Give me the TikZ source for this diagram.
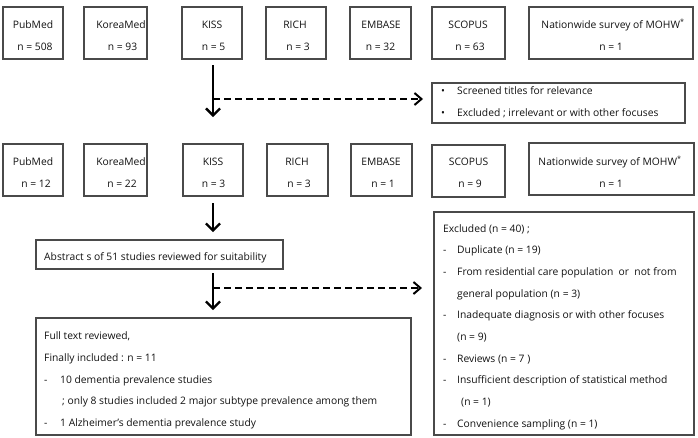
\documentclass[tikz,border=0pt]{standalone}
\usepackage{fontspec}
\setmainfont{Open Sans}
\usetikzlibrary{arrows.meta,calc}
\definecolor{boxc}{HTML}{4A4A4A}
\definecolor{txtc}{HTML}{111111}
\begin{document}
\begin{tikzpicture}[x=1pt,y=-1pt,
  box/.style={draw=boxc,line width=1.2pt,anchor=north west,inner sep=0pt,outer sep=0pt},
  txt/.style={font=\fontsize{10.3}{12}\selectfont,text=txtc,inner sep=0pt,anchor=base},
  ltxt/.style={txt,anchor=base west},
  arr/.style={line width=2.3pt,-{Straight Barb[length=7pt,width=14pt,line width=2.3pt]}},
  darr/.style={line width=1.9pt,dash pattern=on 7pt off 4pt,-{Straight Barb[length=7pt,width=12pt,line width=2pt]}}]
\useasboundingbox (0,0) rectangle (698,437);
% ---------- row 1 ----------
\node[box,minimum width=60pt,minimum height=52pt] (pm1) at (3,7) {};
\node[box,minimum width=63pt,minimum height=52pt] (km1) at (84,7) {};
\node[box,minimum width=60pt,minimum height=52pt] (ki1) at (182,7) {};
\node[box,minimum width=60pt,minimum height=52pt] (ri1) at (266,7) {};
\node[box,minimum width=61pt,minimum height=52pt] (em1) at (350,7) {};
\node[box,minimum width=73pt,minimum height=52pt] (sc1) at (432,7) {};
\node[box,minimum width=164pt,minimum height=52pt] (nw1) at (529,7) {};
\node[txt] (pm1a) at (33,28.6) {PubMed};
\node[txt] (pm1b) at (35,50.6) {n = 508};
\node[txt] (km1a) at (121,28.6) {KoreaMed};
\node[txt] (km1b) at (122.5,50.6) {n = 93};
\node[txt] (ki1a) at (212,28.6) {KISS};
\node[txt] (ki1b) at (213.5,50.6) {n = 5};
\node[txt] (ri1a) at (295,28.6) {RICH};
\node[txt] (ri1b) at (298,50.6) {n = 3};
\node[txt] (em1a) at (381,28.6) {EMBASE};
\node[txt] (em1b) at (380.5,50.6) {n = 32};
\node[txt] (sc1a) at (468,28.6) {SCOPUS};
\node[txt] (sc1b) at (470,50.6) {n = 63};
\node[txt] (nw1a) at (613,28.6) {Nationwide survey of MOHW\textsuperscript{*}};
\node[txt] (nw1b) at (611,50.6) {n = 1};
% ---------- screening box ----------
\node[box,minimum width=253pt,minimum height=40pt] (scr) at (432,83) {};
\node[ltxt] (scra0) at (441,94) {\textbullet};
\node[ltxt] (scra) at (457,94) {Screened titles for relevance};
\node[ltxt] (scrb0) at (441,116) {\textbullet};
\node[ltxt] (scrb) at (457,116) {Excluded ; irrelevant or with other focuses};
% ---------- row 2 ----------
\node[box,minimum width=60pt,minimum height=52pt] (pm2) at (3,144) {};
\node[box,minimum width=63pt,minimum height=52pt] (km2) at (84,144) {};
\node[box,minimum width=60pt,minimum height=52pt] (ki2) at (183,144) {};
\node[box,minimum width=61pt,minimum height=52pt] (ri2) at (267,144) {};
\node[box,minimum width=61pt,minimum height=52pt] (em2) at (351,144) {};
\node[box,minimum width=73pt,minimum height=52pt] (sc2) at (432,145) {};
\node[box,minimum width=165pt,minimum height=52pt] (nw2) at (529,143) {};
\node[txt] (pm2a) at (33,165.6) {PubMed};
\node[txt] (pm2b) at (36,187.6) {n = 12};
\node[txt] (km2a) at (121,165.6) {KoreaMed};
\node[txt] (km2b) at (122,187.6) {n = 22};
\node[txt] (ki2a) at (213,165.6) {KISS};
\node[txt] (ki2b) at (213.5,187.6) {n = 3};
\node[txt] (ri2a) at (297,165.6) {RICH};
\node[txt] (ri2b) at (299,187.6) {n = 3};
\node[txt] (em2a) at (381,165.6) {EMBASE};
\node[txt] (em2b) at (383,187.6) {n = 1};
\node[txt] (sc2a) at (468.5,165.6) {SCOPUS};
\node[txt] (sc2b) at (470,187.6) {n = 9};
\node[txt] (nw2a) at (610,165.6) {Nationwide survey of MOHW\textsuperscript{*}};
\node[txt] (nw2b) at (611,187.6) {n = 1};
% ---------- abstract box ----------
\node[box,minimum width=247pt,minimum height=29pt] (abs) at (36,240) {};
\node[ltxt] (absa) at (44,260.6) {Abstract s of 51 studies reviewed for suitability};
% ---------- final box ----------
\node[box,minimum width=375pt,minimum height=117pt] (fin) at (36,318) {};
\node[ltxt] (fin1) at (44,339) {Full text reviewed,};
\node[ltxt] (fin2) at (44,361) {Finally included : n = 11};
\node[ltxt] (fin3d) at (44,383) {-};
\node[ltxt] (fin3) at (60,383) {10 dementia prevalence studies};
\node[ltxt] (fin4) at (62,404) {; only 8 studies included 2 major subtype prevalence among them};
\node[ltxt] (fin5d) at (44,426) {-};
\node[ltxt] (fin5) at (60,426) {1 Alzheimer's dementia prevalence study};
% ---------- excluded box ----------
\node[box,minimum width=260pt,minimum height=223pt] (exc) at (434,212) {};
\node[ltxt] (ex1) at (443,232) {Excluded (n = 40) ;};
\node[ltxt] (ex2d) at (443,253.7) {-};
\node[ltxt] (ex2) at (457,253.7) {Duplicate (n = 19)};
\node[ltxt] (ex3d) at (443,275.4) {-};
\node[ltxt] (ex3) at (457,275.4) {From residential care population\ \ or\ \ not from};
\node[ltxt] (ex4) at (457,297.1) {general population (n = 3)};
\node[ltxt] (ex5d) at (443,318.8) {-};
\node[ltxt] (ex5) at (457,318.8) {Inadequate diagnosis or with other focuses};
\node[ltxt] (ex6) at (457,340.5) {(n = 9)};
\node[ltxt] (ex7d) at (443,362.2) {-};
\node[ltxt] (ex7) at (457,362.2) {Reviews (n = 7 )};
\node[ltxt] (ex8d) at (443,383.9) {-};
\node[ltxt] (ex8) at (457,383.9) {Insufficient description of statistical method};
\node[ltxt] (ex9) at (461,405.6) {(n = 1)};
\node[ltxt] (ex10d) at (443,427.3) {-};
\node[ltxt] (ex10) at (457,427.3) {Convenience sampling (n = 1)};
% ---------- connectors ----------
\coordinate (b1) at (213,99);
\coordinate (b2) at (213,288);
\draw[arr] ($(ki1.south)+(1,6)$) -- ($(ki2.north)+(0,-27)$);
\draw[darr] (b1) -- ($(b1 -| scr.west)+(-9,0)$);
\draw[arr] ($(ki2.south)+(0,7)$) -- ($(abs.north -| ki2.south)+(0,-8)$);
\draw[arr] ($(abs.south -| ki2.south)+(0,4)$) -- ($(fin.north -| ki2.south)+(0,-8)$);
\draw[darr] (b2) -- ($(b2 -| exc.west)+(-12,0)$);
\end{tikzpicture}
\end{document}
